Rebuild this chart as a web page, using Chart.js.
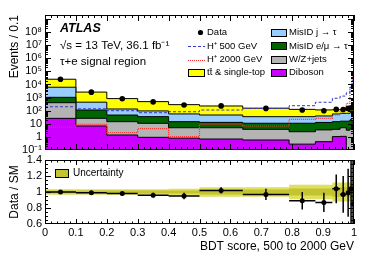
<!DOCTYPE html>
<html>
<head>
<meta charset="utf-8">
<title>BDT score, tau+e signal region</title>
<script src="https://cdn.jsdelivr.net/npm/chart.js@4.4.1/dist/chart.umd.min.js"></script>
<style>
  html, body { margin: 0; padding: 0; background: #fff; }
  #wrap { position: relative; width: 374px; height: 268px; overflow: hidden; }
  canvas { position: absolute; left: 0; }
  #mainCanvas { top: 0; }
  #ratioCanvas { top: 150px; }
</style>
</head>
<body>
<div id="wrap">
  <canvas id="mainCanvas" width="374" height="160"></canvas>
  <canvas id="ratioCanvas" width="374" height="118"></canvas>
</div>
<script>
// variable-width bins of the BDT score
const binEdges = [0, 0.1, 0.2, 0.3, 0.4, 0.5, 0.64, 0.79, 0.875, 0.93, 0.955, 0.975, 0.987, 0.994, 1.0];

// events / 0.1
const dataEvents = [25000, 2600, 820, 470, 275, 232, 150, 112, 100, 125, 122, 150, 165, 170];
const diboson    = [26, 6.8, 1.4, 0.93, 0.8, 0.69, 0.58, 0.28, 0.43, 1.05, 1.1, 0.05, 0.05, 0.05];
const wzJets     = [381, 19.5, 13.1, 10, 4.2, 4.3, 3.2, 2.2, 3.0, 2.75, 3.9, 3.2, 4, 5];
const misidLep   = [640, 86, 32, 24, 9.5, 7.9, 7.2, 8.5, 9.2, 10.7, 10.8, 12.6, 16, 7.6];
const misidJet   = [5100, 335, 88, 61, 42, 34, 24, 24, 27, 41.5, 47, 47, 50, 66];
const ttbar      = [19000, 2180, 700, 395, 232, 182, 120, 91, 75, 64, 63, 88, 88, 121];
const hplus500   = [200, 140, 100, 70, 83, 112, 150, 240, 440, 890, 1300, 2300, 6300, 20000];
const hplus2000  = [5.6, 8.9, 2.1, 4.3, 1.05, 9.3, 6.8, 22, 26, 47, 112, 360, 6300, 40000];

// ratio panel
const ratioVals = [1.0, 0.99, 0.98, 0.96, 0.95, 1.02, 0.97, 0.89, 0.87, 1.04, 0.97, 0.99, 1.04, 0.85];
const ratioErr  = [0.01, 0.015, 0.02, 0.03, 0.04, 0.04, 0.07, 0.11, 0.12, 0.18, 0.23, 0.3, 0.45, 0.6];
const uncOuter  = [0.035, 0.035, 0.035, 0.035, 0.04, 0.06, 0.06, 0.09, 0.09, 0.12, 0.12, 0.12, 0.12, 0.12];
const uncInner  = [0.018, 0.018, 0.018, 0.018, 0.02, 0.03, 0.03, 0.045, 0.045, 0.06, 0.06, 0.06, 0.06, 0.06];

// tick labels
const yTickValues = [0.1, 1, 10, 1e2, 1e3, 1e4, 1e5, 1e6, 1e7, 1e8];
const yTickLabels = ['10\u207B\u00B9', '1', '10', '10\u00B2', '10\u00B3', '10\u2074', '10\u2075', '10\u2076', '10\u2077', '10\u2078'];
const ratioTickValues = [0.6, 0.8, 1, 1.2, 1.4];
const ratioTickLabels = ['0.6', '0.8', '1', '1.2', '1.4'];
const xTickValues = [0, 0.1, 0.2, 0.3, 0.4, 0.5, 0.6, 0.7, 0.8, 0.9, 1];
const xTickLabels = ['0', '0.1', '0.2', '0.3', '0.4', '0.5', '0.6', '0.7', '0.8', '0.9', '1'];

const stackNames  = ['Diboson', 'W/Z+jets', 'MisID e/\u03BC \u2192 \u03C4', 'MisID j \u2192 \u03C4', 't\u0074\u0304 & single-top'];
const stackColors = ['#cc00ff', '#b4b4b4', '#006400', '#99ccff', '#ffff00'];
const h500Color = '#3737c8';
const h2000Color = '#ff3030';
const bandOuterColor = '#e0e060';
const bandInnerColor = '#c4c430';

const FONT = '"Liberation Sans", Arial, Helvetica, sans-serif';
Chart.defaults.font.family = FONT;
Chart.defaults.color = '#000';

const binCenters = binEdges.slice(0, -1).map((e, i) => (e + binEdges[i + 1]) / 2);

// one point per left bin edge, plus a closing point at the last edge
const stepPoints = (vals) => {
  const pts = vals.map((v, i) => ({ x: binEdges[i], y: v }));
  pts.push({ x: binEdges[binEdges.length - 1], y: vals[vals.length - 1] });
  return pts;
};

// stacked sums, bottom layer first
const stackLayers = [diboson, wzJets, misidLep, misidJet, ttbar];
const stackCum = [];
stackLayers.forEach((layer, k) => {
  stackCum.push(layer.map((v, i) => v + (k > 0 ? stackCum[k - 1][i] : 0)));
});

// ATLAS style ticks, pointing inward on all four sides, plus the frame
const makeFrameTicks = (cfg) => ({
  id: 'frameTicks',
  afterDatasetsDraw(chart) {
    const { ctx, chartArea: { left, right, top, bottom }, scales: { x, y } } = chart;
    ctx.save();
    ctx.strokeStyle = '#000';
    ctx.lineWidth = 1;
    ctx.beginPath();
    for (let i = 0; i <= 50; i++) {
      const px = Math.round(x.getPixelForValue(i * 0.02)) + 0.5;
      const len = i % 5 === 0 ? cfg.xMajor : cfg.xMinor;
      ctx.moveTo(px, bottom); ctx.lineTo(px, bottom - len);
      ctx.moveTo(px, top); ctx.lineTo(px, top + len);
    }
    cfg.yTicks().forEach(([v, major]) => {
      const py = Math.round(y.getPixelForValue(v)) + 0.5;
      if (py < top || py > bottom) return;
      const len = major ? cfg.yMajor : cfg.yMinor;
      ctx.moveTo(left, py); ctx.lineTo(left + len, py);
      ctx.moveTo(right, py); ctx.lineTo(right - len, py);
    });
    ctx.stroke();
    ctx.strokeRect(Math.round(left) + 0.5, Math.round(top) + 0.5, Math.round(right - left) - 1, Math.round(bottom - top) - 1);
    ctx.restore();
  }
});

const logTicks = () => {
  const out = [];
  for (let k = -1; k <= 9; k++) {
    for (let m = 1; m <= 9; m++) out.push([m * Math.pow(10, k), m === 1]);
  }
  return out;
};
const ratioTicks = () => {
  const out = [];
  for (let i = 0; i <= 16; i++) out.push([0.6 + i * 0.05, i % 4 === 0]);
  return out;
};

// legend and labels of the main panel
const legendLeft = [
  { kind: 'dot', text: 'Data' },
  { kind: 'line', text: 'H\u207A 500 GeV', color: h500Color, dash: [3, 2] },
  { kind: 'line', text: 'H\u207A 2000 GeV', color: h2000Color, dash: [1, 1] },
  { kind: 'box', text: stackNames[4], color: stackColors[4] },
];
const legendRight = [
  { kind: 'box', text: stackNames[3], color: stackColors[3] },
  { kind: 'box', text: stackNames[2], color: stackColors[2] },
  { kind: 'box', text: stackNames[1], color: stackColors[1] },
  { kind: 'box', text: stackNames[0], color: stackColors[0] },
];
const legendRowsY = [32.5, 46, 59.5, 72.5];

const mainLabels = {
  id: 'mainLabels',
  afterDraw(chart) {
    const { ctx } = chart;
    ctx.save();
    ctx.fillStyle = '#000';
    ctx.textBaseline = 'alphabetic';
    ctx.font = 'italic bold 12.5px ' + FONT;
    ctx.fillText('ATLAS', 60, 32);
    ctx.font = '11.5px ' + FONT;
    ctx.fillText('\u221As = 13 TeV, 36.1 fb\u207B\u00B9', 60, 49);
    ctx.fillText('\u03C4+e signal region', 60, 65);

    ctx.font = '9.5px ' + FONT;
    ctx.textBaseline = 'middle';
    const drawEntry = (e, sx0, sx1, tx, yy) => {
      if (e.kind === 'dot') {
        ctx.beginPath();
        ctx.arc((sx0 + sx1) / 2 + 4, yy, 2.6, 0, Math.PI * 2);
        ctx.fillStyle = '#000';
        ctx.fill();
      } else if (e.kind === 'line') {
        ctx.beginPath();
        ctx.setLineDash(e.dash);
        ctx.strokeStyle = e.color;
        ctx.lineWidth = 1;
        ctx.moveTo(sx0, Math.round(yy) + 0.5);
        ctx.lineTo(sx1, Math.round(yy) + 0.5);
        ctx.stroke();
        ctx.setLineDash([]);
      } else {
        ctx.fillStyle = e.color;
        ctx.fillRect(sx0, Math.round(yy - 4), sx1 - sx0, 8);
        ctx.strokeStyle = '#000';
        ctx.lineWidth = 1;
        ctx.strokeRect(sx0 + 0.5, Math.round(yy - 4) + 0.5, sx1 - sx0 - 1, 7);
      }
      ctx.fillStyle = '#000';
      ctx.fillText(e.text, tx, yy);
    };
    legendLeft.forEach((e, i) => drawEntry(e, 188, 205, 207, legendRowsY[i]));
    legendRight.forEach((e, i) => drawEntry(e, 271, 287, 289, legendRowsY[i]));
    ctx.restore();
  }
};

new Chart(document.getElementById('mainCanvas'), {
  type: 'line',
  data: {
    datasets: [
      {
        label: 'Data',
        data: dataEvents.map((v, i) => ({ x: binCenters[i], y: v })),
        showLine: false,
        pointRadius: 2.8,
        pointBorderWidth: 0,
        pointBackgroundColor: '#000',
      },
      {
        label: 'H+ 500 GeV',
        data: stepPoints(hplus500),
        stepped: true,
        borderColor: h500Color,
        borderWidth: 1,
        borderDash: [3, 2],
        pointRadius: 0,
        fill: false,
      },
      {
        label: 'H+ 2000 GeV',
        data: stepPoints(hplus2000),
        stepped: true,
        borderColor: h2000Color,
        borderWidth: 1.2,
        borderDash: [1, 1],
        pointRadius: 0,
        fill: false,
      },
      ...stackCum.map((cum, k) => ({
        label: stackNames[k],
        data: stepPoints(cum),
        stepped: true,
        borderColor: '#000',
        borderWidth: 1,
        backgroundColor: stackColors[k],
        fill: 'start',
        pointRadius: 0,
      })),
    ]
  },
  options: {
    responsive: false,
    devicePixelRatio: 1,
    animation: false,
    events: [],
    layout: { padding: { left: 0, right: 20, top: 15, bottom: 10 } },
    plugins: { legend: { display: false }, tooltip: { enabled: false } },
    scales: {
      x: { type: 'linear', min: 0, max: 1, display: false },
      y: {
        type: 'logarithmic',
        min: 0.1,
        max: 2e9,
        afterBuildTicks: (s) => { s.ticks = yTickValues.map(v => ({ value: v })); },
        afterFit: (s) => { s.width = 45; },
        grid: { display: false, drawTicks: false },
        border: { display: false },
        ticks: {
          autoSkip: false,
          padding: 3,
          font: { size: 11 },
          callback: (v, i) => yTickLabels[i],
        },
        title: { display: true, text: 'Events / 0.1', align: 'end', font: { size: 12 }, padding: { top: 7, bottom: 0 } },
      },
    },
  },
  plugins: [makeFrameTicks({ xMajor: 6, xMinor: 3, yMajor: 6, yMinor: 3, yTicks: logTicks }), mainLabels],
});

// error bars on the ratio points
const ratioErrorBars = {
  id: 'ratioErrorBars',
  afterDatasetsDraw(chart) {
    const { ctx, chartArea: { left, right, top, bottom }, scales: { x, y } } = chart;
    ctx.save();
    ctx.beginPath();
    ctx.rect(left, top, right - left, bottom - top);
    ctx.clip();
    ctx.strokeStyle = '#000';
    ctx.lineWidth = 1.5;
    ctx.beginPath();
    ratioVals.forEach((r, i) => {
      const py = y.getPixelForValue(r);
      const px = x.getPixelForValue(binCenters[i]);
      ctx.moveTo(x.getPixelForValue(binEdges[i]), py);
      ctx.lineTo(x.getPixelForValue(binEdges[i + 1]), py);
      ctx.moveTo(px, y.getPixelForValue(r + ratioErr[i]));
      ctx.lineTo(px, y.getPixelForValue(r - ratioErr[i]));
    });
    ctx.stroke();
    ctx.restore();

    // legend
    ctx.save();
    ctx.fillStyle = bandInnerColor;
    ctx.fillRect(55, 19, 14, 9);
    ctx.strokeStyle = '#000';
    ctx.lineWidth = 1;
    ctx.strokeRect(55.5, 19.5, 13, 8);
    ctx.fillStyle = '#000';
    ctx.font = '10px ' + FONT;
    ctx.textBaseline = 'middle';
    ctx.fillText('Uncertainty', 73, 23.5);
    ctx.restore();
  }
};

const bandEdge = (unc, sign) => stepPoints(unc.map(u => 1 + sign * u));

new Chart(document.getElementById('ratioCanvas'), {
  type: 'line',
  data: {
    datasets: [
      {
        label: 'Data / SM',
        data: ratioVals.map((r, i) => ({ x: binCenters[i], y: r })),
        showLine: false,
        pointRadius: 2.5,
        pointBorderWidth: 0,
        pointBackgroundColor: '#000',
      },
      { data: bandEdge(uncInner, 1), stepped: true, borderWidth: 0, borderColor: 'rgba(0,0,0,0)', pointRadius: 0, backgroundColor: bandInnerColor, fill: '+1' },
      { data: bandEdge(uncInner, -1), stepped: true, borderWidth: 0, borderColor: 'rgba(0,0,0,0)', pointRadius: 0, fill: false },
      { data: bandEdge(uncOuter, 1), stepped: true, borderWidth: 0, borderColor: 'rgba(0,0,0,0)', pointRadius: 0, backgroundColor: bandOuterColor, fill: '+1' },
      { data: bandEdge(uncOuter, -1), stepped: true, borderWidth: 0, borderColor: 'rgba(0,0,0,0)', pointRadius: 0, fill: false },
    ]
  },
  options: {
    responsive: false,
    devicePixelRatio: 1,
    animation: false,
    events: [],
    layout: { padding: { left: 0, right: 20, top: 10, bottom: 14 } },
    plugins: { legend: { display: false }, tooltip: { enabled: false } },
    scales: {
      x: {
        type: 'linear',
        min: 0,
        max: 1,
        afterBuildTicks: (s) => { s.ticks = xTickValues.map(v => ({ value: v })); },
        afterFit: (s) => { s.height = 30; },
        grid: { display: false, drawTicks: false },
        border: { display: false },
        ticks: { autoSkip: false, maxRotation: 0, padding: 2, font: { size: 11 }, callback: (v, i) => xTickLabels[i] },
        title: { display: true, text: 'BDT score, 500 to 2000 GeV', align: 'end', font: { size: 12 }, padding: { top: 0, bottom: 0 } },
      },
      y: {
        type: 'linear',
        min: 0.6,
        max: 1.4,
        afterBuildTicks: (s) => { s.ticks = ratioTickValues.map(v => ({ value: v })); },
        afterFit: (s) => { s.width = 45; },
        grid: { display: false, drawTicks: false },
        border: { display: false },
        ticks: { autoSkip: false, padding: 3, font: { size: 11 }, callback: (v, i) => ratioTickLabels[i] },
        title: { display: true, text: 'Data / SM', font: { size: 12 }, padding: { top: 7, bottom: 0 } },
      },
    },
  },
  plugins: [makeFrameTicks({ xMajor: 5, xMinor: 2.5, yMajor: 6, yMinor: 3, yTicks: ratioTicks }), ratioErrorBars],
});
</script>
</body>
</html>
